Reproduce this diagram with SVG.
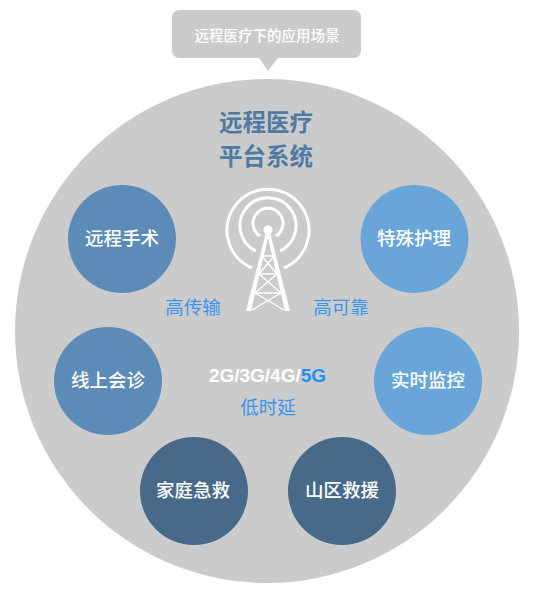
<svg xmlns="http://www.w3.org/2000/svg" width="535" height="597" viewBox="0 0 535 597">
<style>
text{font-family:"Noto Sans CJK SC","Liberation Sans",sans-serif;text-anchor:middle}
.n{font-size:18.5px;fill:#fff;font-weight:500}
.b{font-size:18.5px;fill:#3a94ee}
.t{font-size:23.500px;fill:#4f7ba3;font-weight:700}
.w{fill:none;stroke:#fff;stroke-width:3}
.l{fill:none;stroke:#fff;stroke-width:1.3}
</style>
<rect width="535" height="597" fill="#fff"/>
<circle cx="267" cy="331" r="252" fill="#cbcbcb"/>
<g id="callout">
<path d="M180 10H353Q361 10 361 18V50Q361 58 353 58H278L268 71L259 58H180Q172 58 172 50V18Q172 10 180 10Z" fill="#cbcbcb"/>
<text x="267" y="41" style="font-size:14.5px;font-weight:500" fill="#fff">远程医疗下的应用场景</text>
</g>
<g id="title">
<text class="t" x="266" y="131">远程医疗</text>
<text class="t" x="266" y="165">平台系统</text>
</g>
<g id="tower">
<path class="w" d="M252 268A41 41 0 1 1 284 268M256 251A28 28 0 1 1 280 251M260 236A15 15 0 1 1 276 236"/>
<circle cx="268" cy="230" r="4.5" fill="#fff"/>
<path d="M266 232H270L290 311H285L268 238L251 311H246Z" fill="#fff"/>
<path class="l" d="M262 256H274M259 274H277M255 293H281M255 293L277 274M281 293L259 274M252 310L281 293M284 310L255 293M259 274L274 256M277 274L262 256"/>
</g>
<g id="n1"><circle cx="122" cy="239" r="54" fill="#5d8bb7"/><text class="n" x="122" y="245">远程手术</text></g>
<g id="n2"><circle cx="414.500" cy="239" r="54" fill="#6aa5da"/><text class="n" x="414" y="245">特殊护理</text></g>
<g id="n3"><circle cx="108" cy="381" r="54" fill="#5d8bb7"/><text class="n" x="108" y="387">线上会诊</text></g>
<g id="n4"><circle cx="428" cy="381" r="54" fill="#6aa5da"/><text class="n" x="428" y="387">实时监控</text></g>
<g id="n5"><circle cx="194" cy="491" r="54" fill="#476a8b"/><text class="n" x="193" y="497">家庭急救</text></g>
<g id="n6"><circle cx="342" cy="491" r="54" fill="#476a8b"/><text class="n" x="342" y="497">山区救援</text></g>
<g id="labels">
<text class="b" x="193" y="314">高传输</text>
<text class="b" x="341" y="314">高可靠</text>
<text class="b" x="268" y="414">低时延</text>
<text x="267.500" y="382" style="font-family:'Liberation Sans',sans-serif;font-size:19px;font-weight:700;fill:#fff">2G/3G/4G/<tspan fill="#1e8fff">5G</tspan></text>
</g>
</svg>
